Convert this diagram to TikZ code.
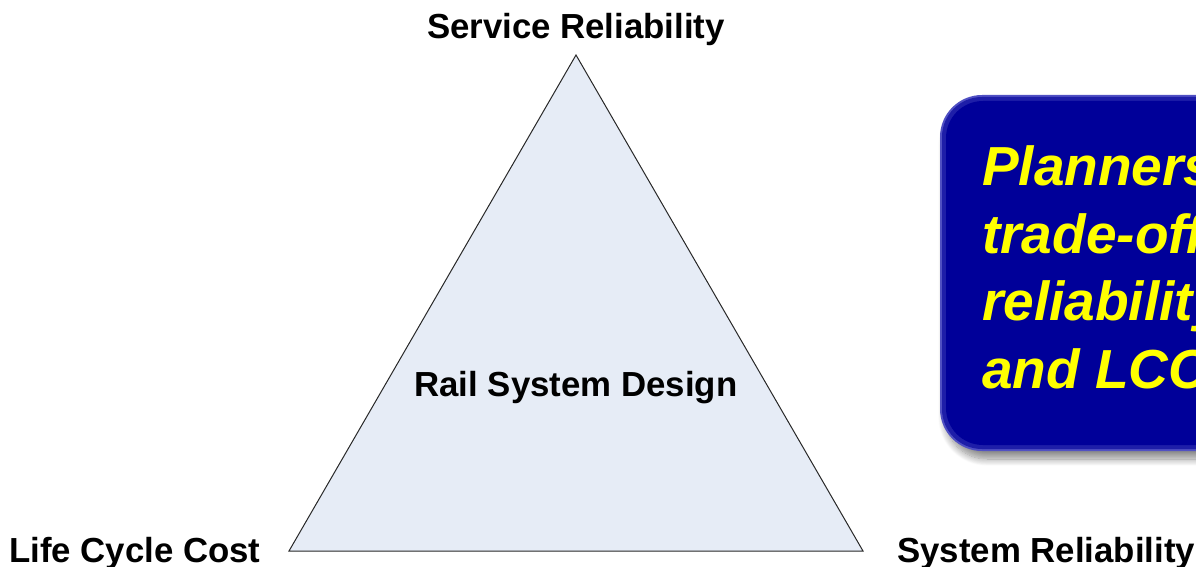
\documentclass[tikz,border=0pt]{standalone}
\usepackage{fontspec}
\setmainfont{Liberation Sans}
\usetikzlibrary{shadows.blur}

\definecolor{trifill}{RGB}{230,236,246}
\definecolor{triline}{RGB}{40,40,40}
\definecolor{boxrim}{RGB}{80,80,195}
\definecolor{boxmid}{RGB}{30,30,168}
\definecolor{boxcore}{RGB}{0,0,153}
\definecolor{boxtext}{RGB}{255,255,0}

\tikzset{
  cornerlabel/.style={font=\bfseries\fontsize{34.8}{40}\selectfont, inner sep=0pt},
  boxline/.style={font=\bfseries\itshape\fontsize{55}{66}\selectfont, text=boxtext, inner sep=0pt, anchor=base west},
}

\begin{document}
\begin{tikzpicture}[x=1pt, y=-1pt]
  \useasboundingbox (0,0) rectangle (1196,567);
  \clip (0,0) rectangle (1196,567);

  % triangle of the three design goals
  \coordinate (apex) at (576,55);
  \coordinate (left) at (289,551);
  \coordinate (right) at (863,551);
  \draw[fill=trifill, draw=triline, line width=1pt, line join=miter]
    (apex) -- (left) -- (right) -- cycle;

  \node[cornerlabel, anchor=base] (service) at (576,39) {Service Reliability};
  \node[cornerlabel, anchor=base] (design) at (576,396) {Rail System Design};
  \node[cornerlabel, anchor=base west] (lcc) at (9,562) {Life Cycle Cost};
  \node[cornerlabel, anchor=base west] (sysrel) at (897,562) {System Reliability};

  % callout panel with bevelled rim and soft shadow
  \fill[boxrim, rounded corners=42pt,
        blur shadow={shadow xshift=5pt, shadow yshift=-8pt, shadow blur radius=7pt, shadow blur steps=12, shadow opacity=45}]
    (940,95) rectangle (1320,451);
  \fill[boxmid, rounded corners=40pt] (942,97) rectangle (1318,449);
  \fill[boxcore, rounded corners=37pt] (946,101) rectangle (1314,445);

  \node[boxline] (l1) at (982,185) {Planners};
  \node[boxline] (l2) at (982,253) {trade-off};
  \node[boxline] (l3) at (982,320) {reliability};
  \node[boxline] (l4) at (982,388) {and LCC};
\end{tikzpicture}
\end{document}
